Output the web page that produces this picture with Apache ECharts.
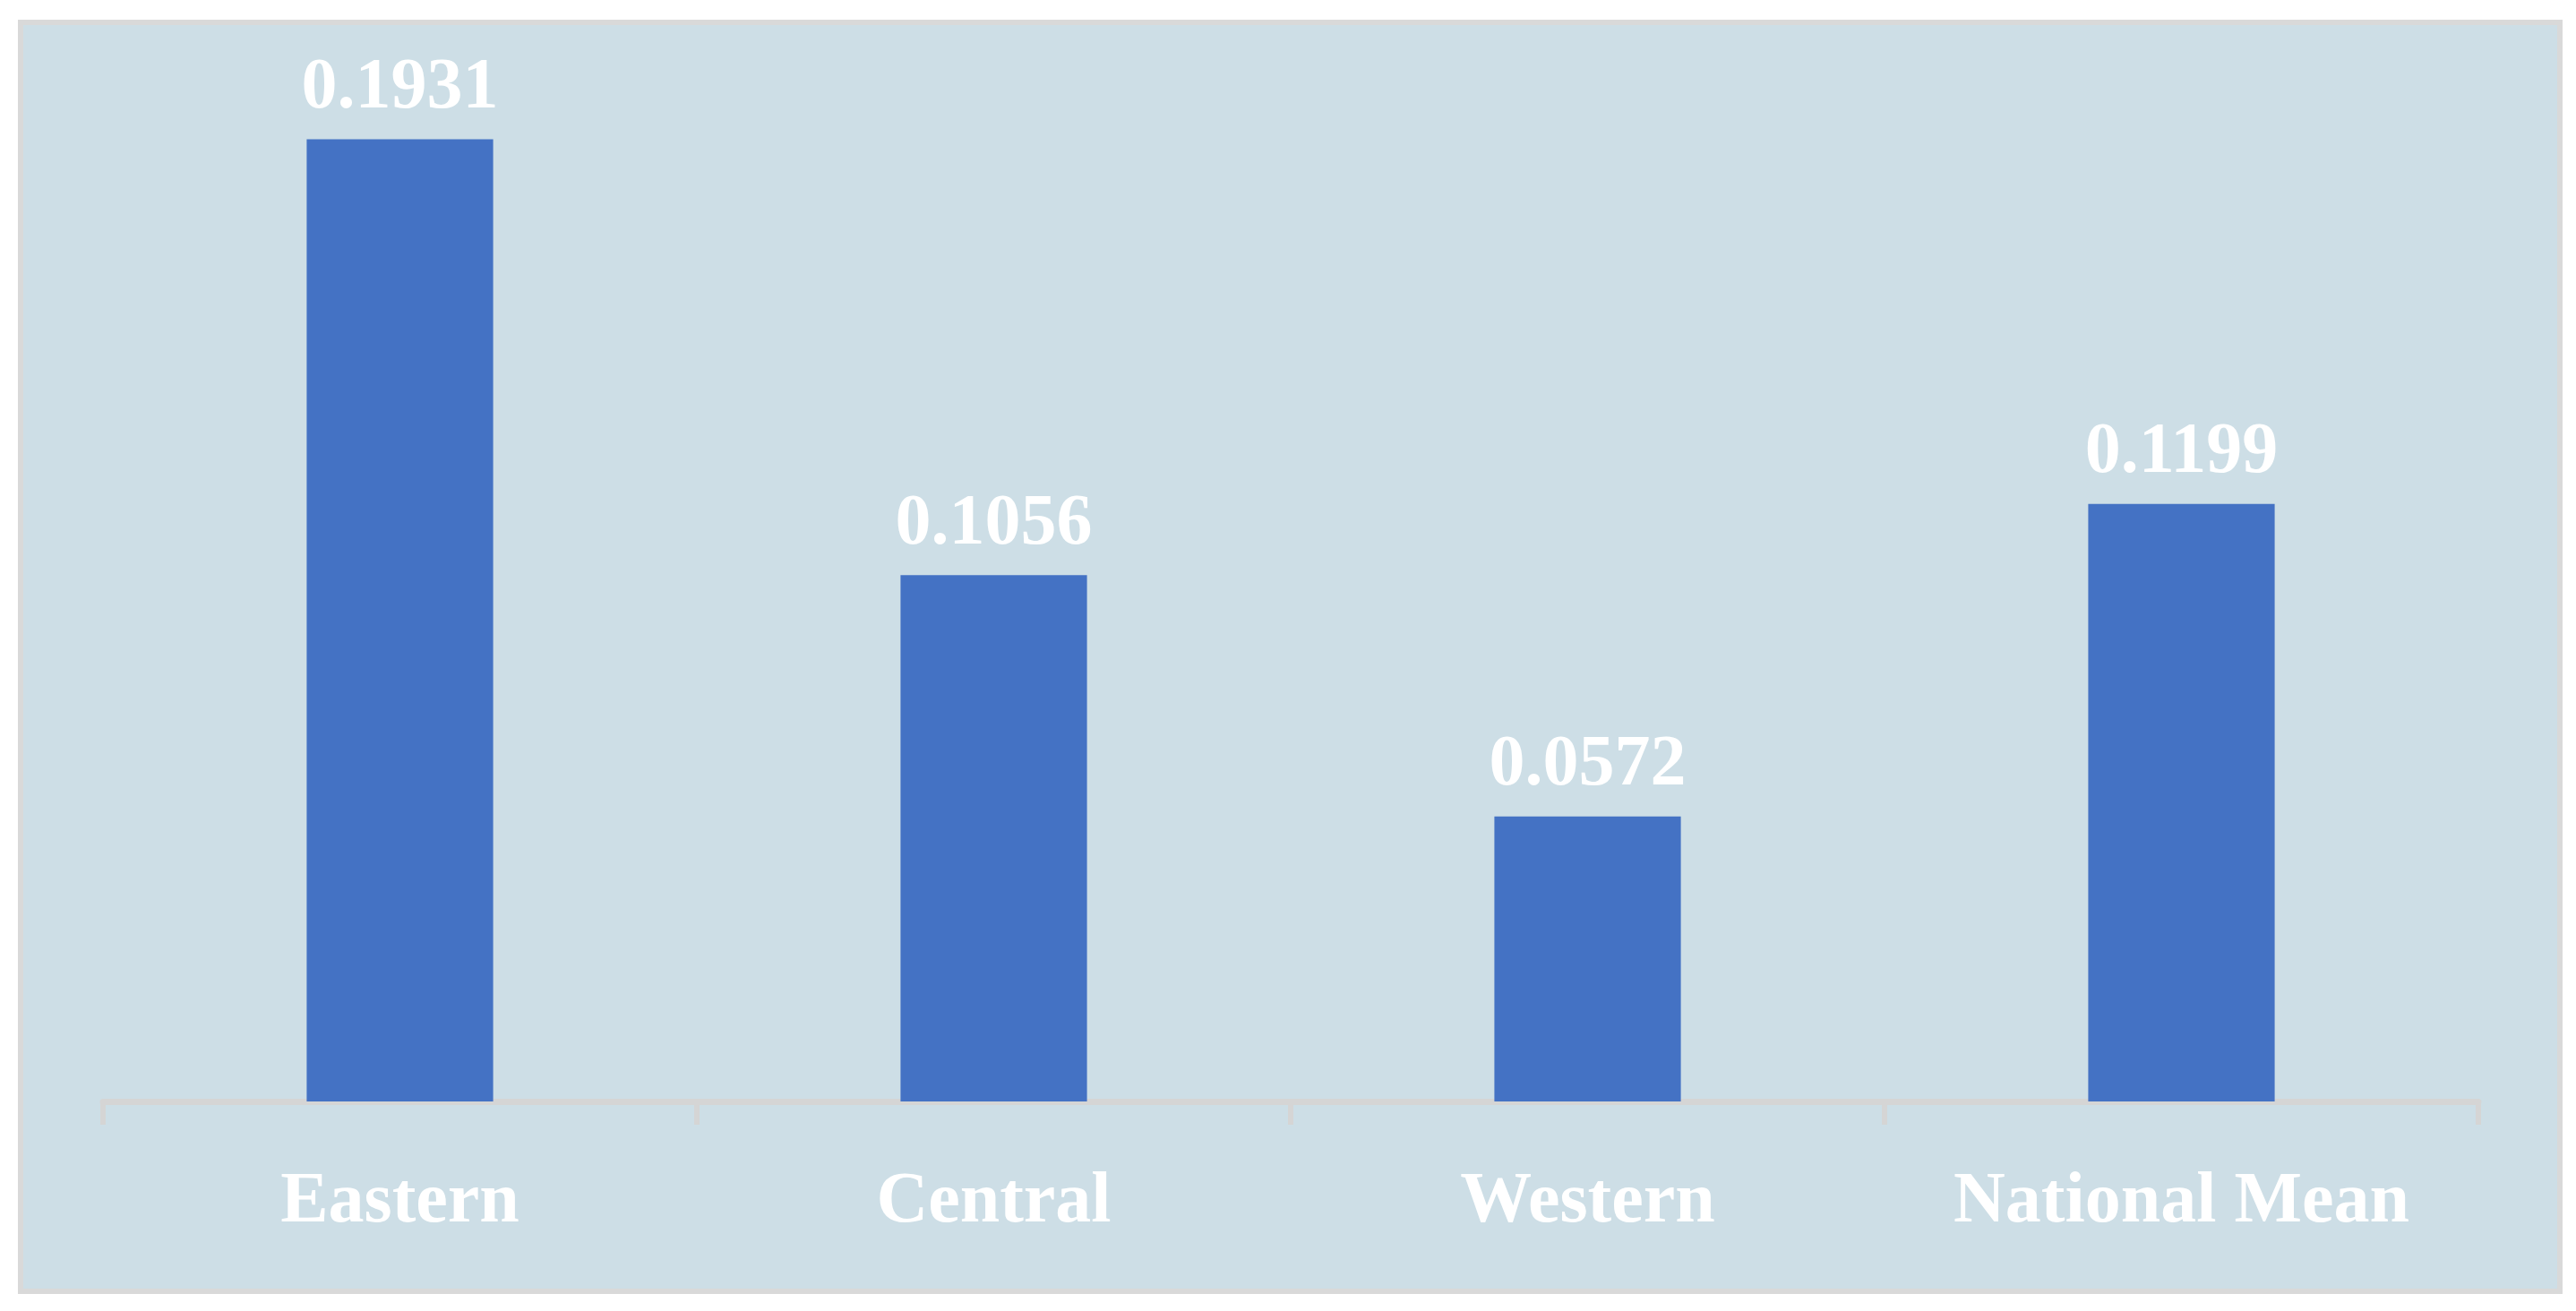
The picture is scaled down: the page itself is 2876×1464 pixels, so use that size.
<!DOCTYPE html>
<html>
<head>
<meta charset="utf-8">
<script src="https://cdn.jsdelivr.net/npm/echarts@6/dist/echarts.min.js"></script>
<style>
  html, body { margin: 0; padding: 0; background: #ffffff; width: 2876px; height: 1464px; overflow: hidden; }
  #frame { position: absolute; left: 20px; top: 22px; width: 2841px; height: 1423px; box-sizing: border-box; border: 6px solid #D9D9D9; background: #CDDEE6; }
  #chart { position: absolute; left: 0; top: 0; width: 2876px; height: 1464px; }
</style>
</head>
<body>
<div id="frame"></div>
<div id="chart"></div>
<script>
const categories = ['Eastern', 'Central', 'Western', 'National Mean'];
const values = [0.1931, 0.1056, 0.0572, 0.1199];

const fontFamily = '"Liberation Serif", "DejaVu Serif", serif';
const chart = echarts.init(document.getElementById('chart'), null, { renderer: 'canvas' });
chart.setOption({
  backgroundColor: 'transparent',
  animation: false,
  grid: { left: 115, right: 109, top: 117, bottom: 234, containLabel: false },
  xAxis: {
    type: 'category',
    data: categories,
    offset: 4,
    axisLine: { show: true, lineStyle: { color: '#D5D5D5', width: 7 } },
    axisTick: { show: true, length: 26, lineStyle: { color: '#D5D5D5', width: 6 } },
    axisLabel: { color: '#FFFFFF', fontFamily: fontFamily, fontWeight: 'bold', fontSize: 80, margin: 69 }
  },
  yAxis: {
    type: 'value', min: 0, max: 0.2, show: false,
    splitLine: { show: false }
  },
  series: [{
    type: 'bar',
    data: values,
    barWidth: '31.4%',
    itemStyle: { color: '#4472C4' },
    label: {
      show: true, position: 'top', distance: 16,
      color: '#FFFFFF', fontFamily: fontFamily, fontWeight: 'bold', fontSize: 80,
      formatter: p => p.value.toFixed(4)
    }
  }]
});
</script>
</body>
</html>
